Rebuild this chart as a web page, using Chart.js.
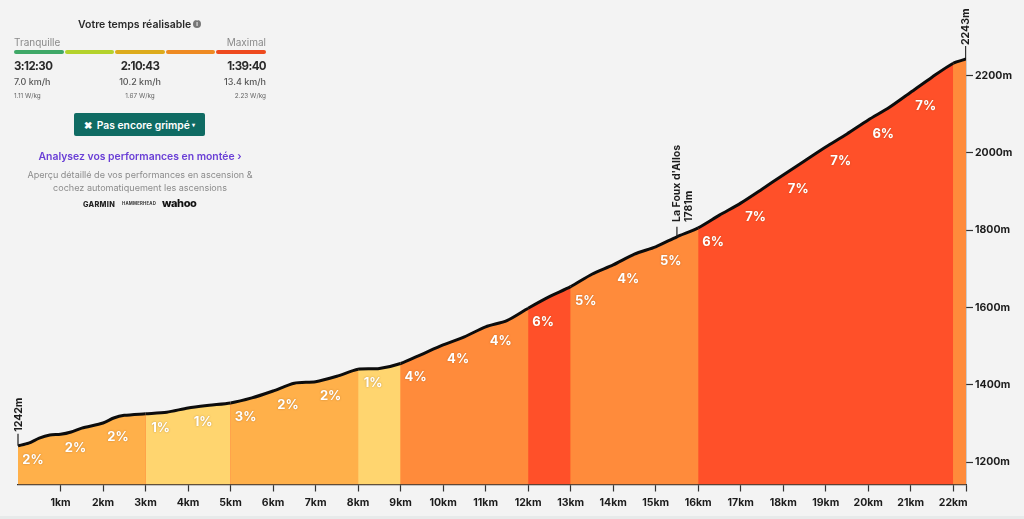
<!doctype html>
<html>

<head>
    <title>Profil de la montée</title>
    <script src="https://cdn.jsdelivr.net/npm/chart.js@4/dist/chart.umd.js"></script>
    <style>
    html, body{
        margin: 0;
        width: 1024px;
        height: 519px;
        overflow: hidden;
        background: #f3f3f3;
        font-family: Inter, Arial, sans-serif;
        color: #2a2a2a;
    }
    #chart-holder{
        position: absolute;
        left: 0;
        top: 0;
        width: 1024px;
        height: 519px;
    }
    #panel div, #panel span{
        position: absolute;
        white-space: nowrap;
    }
    .center{
        transform: translateX(-50%);
    }
    .right{
        transform: translateX(-100%);
    }
    .bar{
        top: 50px;
        height: 3.5px;
        border-radius: 2px;
    }
    .time{
        top: 59px;
        font-size: 11.5px;
        font-weight: 700;
        letter-spacing: -0.6px;
    }
    .speed{
        top: 76px;
        font-size: 9px;
        font-weight: 500;
        color: #555;
    }
    .power{
        top: 92px;
        font-size: 6.4px;
        color: #666;
    }
    #strip{
        position: absolute;
        left: 0;
        top: 516px;
        width: 1024px;
        height: 3px;
        background: #e7eaea;
    }
    </style>
</head>

<body>
    <div id="chart-holder"><canvas id="profile"></canvas></div>
    <div id="panel">
        <div style="left:78px;top:18px;font-size:10.5px;font-weight:600">Votre temps réalisable</div>
        <div style="left:193px;top:20px;width:8px;height:8px;border-radius:50%;background:#777;color:#f3f3f3;font-size:6px;line-height:8px;text-align:center;font-weight:700">i</div>
        <div style="left:14px;top:36px;font-size:10px;color:#8a8a8a">Tranquille</div>
        <div class="right" style="left:266px;top:36px;font-size:10px;color:#8a8a8a">Maximal</div>
        <div class="bar" style="left:14px;width:50px;background:#3fa867"></div>
        <div class="bar" style="left:65px;width:49px;background:#b4d22c"></div>
        <div class="bar" style="left:115px;width:50px;background:#dcab1c"></div>
        <div class="bar" style="left:166px;width:49px;background:#ee8a22"></div>
        <div class="bar" style="left:216px;width:50px;background:#ee4a1e"></div>
        <div class="time" style="left:14px">3:12:30</div>
        <div class="time center" style="left:140px">2:10:43</div>
        <div class="time right" style="left:266px">1:39:40</div>
        <div class="speed" style="left:14px">7.0 km/h</div>
        <div class="speed center" style="left:140px">10.2 km/h</div>
        <div class="speed right" style="left:266px">13.4 km/h</div>
        <div class="power" style="left:14px">1.11 W/kg</div>
        <div class="power center" style="left:140px">1.67 W/kg</div>
        <div class="power right" style="left:266px">2.23 W/kg</div>
        <div style="left:74px;top:113px;width:131px;height:23px;border-radius:2px;background:#0f6b63;color:#fff;font-size:10.3px;font-weight:600;line-height:23px;text-align:center">✖&nbsp; Pas encore grimpé <span style="position:static;font-size:6px;vertical-align:2px">▾</span></div>
        <div class="center" style="left:140px;top:150px;font-size:10.4px;font-weight:600;color:#6a3fd6">Analysez vos performances en montée ›</div>
        <div class="center" style="left:140px;top:169px;font-size:9.05px;color:#8c8c8c">Aperçu détaillé de vos performances en ascension &amp;</div>
        <div class="center" style="left:140px;top:182px;font-size:9.05px;color:#8c8c8c">cochez automatiquement les ascensions</div>
        <div style="left:83px;top:200px;font-size:7.3px;font-weight:800;letter-spacing:.3px;color:#222">GARMIN</div>
        <div style="left:122px;top:201px;font-size:4.3px;font-weight:700;letter-spacing:.2px;color:#333">HAMMERHEAD</div>
        <div style="left:162px;top:196px;font-size:11px;font-weight:800;letter-spacing:-.4px;color:#111">wahoo</div>
    </div>
    <div id="strip"></div>
    <script>
    // distance in km, elevation in m
    var distances = [0,0.25,0.5,0.75,1,1.25,1.5,2,2.25,2.5,3,3.5,4,4.5,5,5.5,6,6.5,7,7.5,8,8.5,9,9.5,
        10,10.5,11,11.5,12,12.5,13,13.5,14,14.5,15,15.5,16,16.5,17,17.5,18,18.5,19,19.5,20,20.5,21,21.5,22,22.3];
    var elevations = [1242,1249,1262,1270,1272,1278,1288,1301,1314,1321,1325,1329,1340,1347,1353,1366,1384,1404,1408,1422,1440,1442,1455,1479,
        1503,1524,1550,1566,1598,1628,1654,1686,1710,1738,1757,1783,1806,1839,1870,1906,1943,1979,2015,2049,2085,2118,2157,2196,2232,2243];
    // one grade per km, the last one is the short end piece with no label
    var grades = [2,2,2,1,1,3,2,2,1,4,4,4,6,5,4,5,6,7,7,7,6,7,5];
    var yTicks = [1200,1400,1600,1800,2000,2200];
    var xEnd = 22.3;

    function gradeColor(grade){
        if (grade <= 1) return '#ffd56f';
        if (grade <= 3) return '#ffb04a';
        if (grade <= 5) return '#ff8b3b';
        return '#ff5029';
    }

    var points = distances.map(function (d, i){
        return {x: d, y: elevations[i]};
    });

    var profileLabels = {
        id: 'profileLabels',
        afterDatasetsDraw: function (chart){
            var ctx = chart.ctx;
            var x = chart.scales.x;
            var y = chart.scales.y;
            ctx.save();
            // grade labels
            ctx.font = '700 13px Inter';
            ctx.fillStyle = '#fff';
            ctx.textAlign = 'center';
            ctx.textBaseline = 'middle';
            ctx.shadowColor = 'rgba(120,70,20,.45)';
            ctx.shadowBlur = 2;
            for (var km = 0; km < 22; km++){
                var elev = elevations[distances.indexOf(km)];
                ctx.fillText(grades[km] + '%', x.getPixelForValue(km) + 15, y.getPixelForValue(elev) + 14);
            }
            ctx.shadowBlur = 0;
            // markers
            ctx.strokeStyle = '#222';
            ctx.lineWidth = 1.2;
            ctx.beginPath();
            ctx.moveTo(x.getPixelForValue(0), y.getPixelForValue(1242));
            ctx.lineTo(x.getPixelForValue(0), y.getPixelForValue(1242) - 12);
            ctx.moveTo(x.getPixelForValue(15.5), y.getPixelForValue(1783));
            ctx.lineTo(x.getPixelForValue(15.5), y.getPixelForValue(1783) - 10);
            ctx.stroke();
            ctx.fillStyle = '#1c1c1c';
            ctx.font = '700 10.5px Inter';
            ctx.textAlign = 'left';
            function vertical(text, px, py){
                ctx.save();
                ctx.translate(px, py);
                ctx.rotate(-Math.PI / 2);
                ctx.fillText(text, 0, 0);
                ctx.restore();
            }
            vertical('1242m', x.getPixelForValue(0) + 1, y.getPixelForValue(1242) - 14);
            vertical('2243m', x.getPixelForValue(xEnd), 45);
            vertical("La Foux d'Allos", x.getPixelForValue(15.5), 222);
            vertical('1781m', x.getPixelForValue(15.5) + 12, 222);
            ctx.restore();
        }
    };

    var config = {
        type: 'line',
        data: {
            datasets: [{
                data: points,
                borderColor: '#0c0c0c',
                borderWidth: 3,
                pointRadius: 0,
                tension: 0.25,
                fill: 'start',
                backgroundColor: '#ff8b3b',
                segment: {
                    backgroundColor: function (c){
                        return gradeColor(grades[Math.floor(c.p0.parsed.x)]);
                    }
                }
            }, {
                // plain fill underneath so the joins between the bands don't show
                data: points,
                borderWidth: 0,
                pointRadius: 0,
                tension: 0.25,
                fill: 'start',
                backgroundColor: '#ff8b3b'
            }]
        },
        plugins: [profileLabels],
        options: {
            responsive: true,
            maintainAspectRatio: false,
            animation: false,
            layout: {padding: {left: 18, top: 47, right: 0, bottom: 0}},
            plugins: {legend: {display: false}, tooltip: {enabled: false}},
            scales: {
                x: {
                    type: 'linear',
                    min: 0,
                    max: xEnd,
                    afterBuildTicks: function (axis){
                        var ticks = [];
                        for (var km = 1; km <= 22; km++) ticks.push({value: km});
                        ticks.push({value: xEnd});
                        axis.ticks = ticks;
                    },
                    afterFit: function (axis){
                        axis.height = 34.5;
                    },
                    grid: {drawOnChartArea: false, tickLength: 7, tickColor: '#333', tickWidth: 1.2},
                    border: {color: '#333', width: 1.2},
                    ticks: {
                        autoSkip: false,
                        maxRotation: 0,
                        padding: 5,
                        color: '#1c1c1c',
                        font: {family: 'Inter', size: 10.5, weight: '700'},
                        callback: function (value){
                            return value === xEnd ? '' : value + 'km';
                        }
                    }
                },
                y: {
                    position: 'right',
                    min: 1142,
                    max: 2274,
                    afterBuildTicks: function (axis){
                        axis.ticks = yTicks.map(function (v){ return {value: v}; });
                    },
                    afterFit: function (axis){
                        axis.width = 58;
                    },
                    grid: {drawOnChartArea: false, tickLength: 7, tickColor: '#333', tickWidth: 1.2},
                    border: {color: '#333', width: 1.2},
                    ticks: {
                        padding: 2,
                        color: '#1c1c1c',
                        font: {family: 'Inter', size: 10.5, weight: '700'},
                        callback: function (value){
                            return value + 'm';
                        }
                    }
                }
            }
        }
    };

    window.onload = function (){
        var ctx = document.getElementById('profile').getContext('2d');
        window.myProfile = new Chart(ctx, config);
    };
    </script>
</body>

</html>
